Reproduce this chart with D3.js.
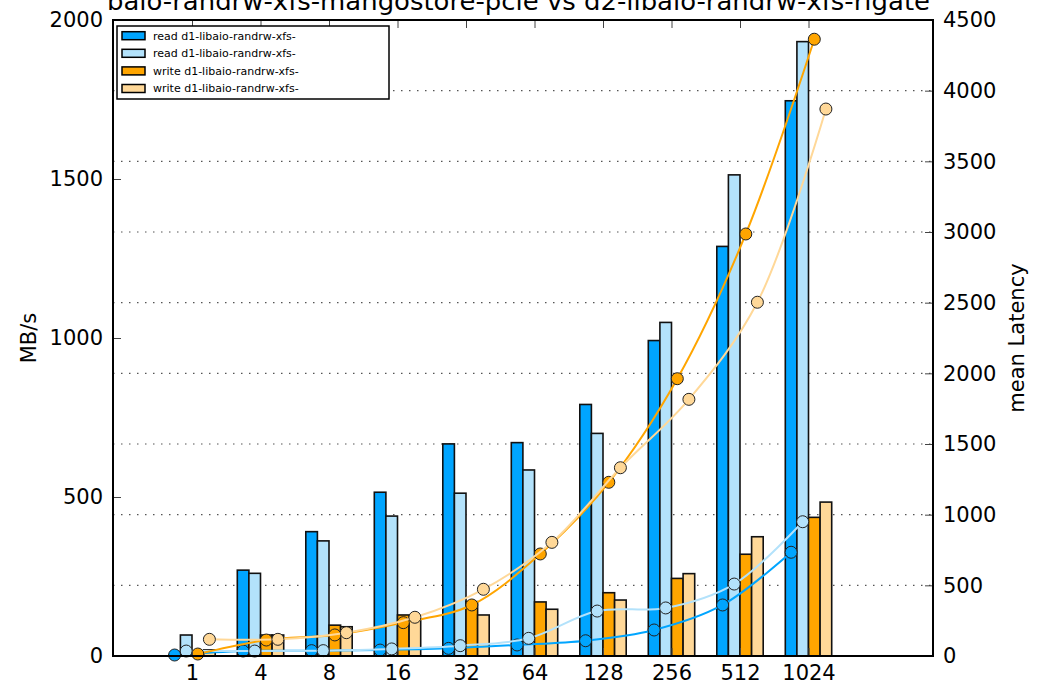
<!DOCTYPE html>
<html>
<head>
<meta charset="utf-8">
<script src="https://cdn.jsdelivr.net/npm/d3@7"></script>
<style>
  body { margin: 0; background: #fff; }
  svg { font-family: "DejaVu Sans", sans-serif; }
</style>
</head>
<body>
<div id="chart"></div>
<script>
var categories = ["1", "4", "8", "16", "32", "64", "128", "256", "512", "1024"];
var seriesNames = ["read d1-libaio-randrw-xfs-", "read d1-libaio-randrw-xfs-",
                   "write d1-libaio-randrw-xfs-", "write d1-libaio-randrw-xfs-"];
var seriesColors = ["#00a5ff", "#b3e2fb", "#ffa500", "#ffd898"];

// MB/s (left axis)
var readBw1  = [2, 270, 391, 515, 667, 671, 791, 992, 1288, 1746];
var readBw2  = [66, 260, 362, 440, 512, 585, 700, 1049, 1513, 1932];
var writeBw1 = [5, 66, 97, 129, 171, 170, 199, 244, 320, 436];
var writeBw2 = [19, 66, 92, 113, 129, 147, 176, 259, 375, 484];

// mean latency (right axis)
var readLat1  = [7, 35, 38, 42, 54, 78, 108, 184, 361, 734];
var readLat2  = [35, 35, 38, 50, 73, 125, 318, 340, 509, 950];
var writeLat1 = [14, 113, 149, 236, 361, 722, 1229, 1962, 2986, 4364];
var writeLat2 = [118, 118, 165, 274, 472, 804, 1332, 1816, 2503, 3870];

var leftTicks = [0, 500, 1000, 1500, 2000];
var rightTicks = [0, 500, 1000, 1500, 2000, 2500, 3000, 3500, 4000, 4500];

var bw = [readBw1, readBw2, writeBw1, writeBw2];
var lat = [readLat1, readLat2, writeLat1, writeLat2];

var W = 1047, H = 684;
var plot = { left: 113, right: 933, top: 20, bottom: 656 };

var svg = d3.select("#chart").append("svg")
  .attr("width", W).attr("height", H);

var xScale = d3.scalePoint().domain(categories).range([192, 808.5]);
var subScale = d3.scaleBand().domain([0, 1, 2, 3]).range([-23.2, 23.2]);
var yLeft = d3.scaleLinear().domain([0, 2000]).range([plot.bottom, plot.top]);
var yRight = d3.scaleLinear().domain([0, 4500]).range([plot.bottom, plot.top]);

// title (clipped at the top of the page, as in the original)
svg.append("text")
  .attr("x", 107).attr("y", 10)
  .attr("font-size", 24)
  .attr("textLength", 823)
  .attr("lengthAdjust", "spacingAndGlyphs")
  .text("baio-randrw-xfs-mangostore-pcie vs d2-libaio-randrw-xfs-rigate");

// dotted grid from the right axis
svg.append("g").selectAll("line")
  .data(rightTicks.filter(function(d) { return d > 0 && d < 4500; }))
  .enter().append("line")
  .attr("x1", plot.left).attr("x2", plot.right)
  .attr("y1", function(d) { return yRight(d); })
  .attr("y2", function(d) { return yRight(d); })
  .attr("stroke", "#555")
  .attr("stroke-width", 1.2)
  .attr("stroke-dasharray", "1.5,6.5");

// bars
var groups = svg.append("g").selectAll("g")
  .data(categories)
  .enter().append("g")
  .attr("transform", function(d) { return "translate(" + xScale(d) + ",0)"; });

groups.selectAll("rect")
  .data(function(d, i) { return bw.map(function(s, k) { return { k: k, v: s[i] }; }); })
  .enter().append("rect")
  .attr("x", function(d) { return subScale(d.k); })
  .attr("width", subScale.bandwidth())
  .attr("y", function(d) { return yLeft(d.v); })
  .attr("height", function(d) { return yLeft(0) - yLeft(d.v); })
  .attr("fill", function(d) { return seriesColors[d.k]; })
  .attr("stroke", "#111")
  .attr("stroke-width", 1.6);

// latency lines
var line = d3.line()
  .x(function(d) { return d.x; })
  .y(function(d) { return yRight(d.v); })
  .curve(d3.curveCatmullRom.alpha(0.5));

lat.forEach(function(s, k) {
  var pts = s.map(function(v, i) {
    return { x: xScale(categories[i]) + subScale(k) + subScale.bandwidth() / 2, v: v };
  });
  svg.append("path")
    .datum(pts)
    .attr("d", line)
    .attr("fill", "none")
    .attr("stroke", seriesColors[k])
    .attr("stroke-width", 2);
  svg.append("g").selectAll("circle")
    .data(pts)
    .enter().append("circle")
    .attr("cx", function(d) { return d.x; })
    .attr("cy", function(d) { return yRight(d.v); })
    .attr("r", 6)
    .attr("fill", seriesColors[k])
    .attr("stroke", "#222")
    .attr("stroke-width", 1);
});

// axes
var fmt = d3.format("d");
var leftAxis = d3.axisLeft(yLeft).tickValues(leftTicks).tickFormat(fmt).tickSize(-8).tickPadding(10);
svg.append("g")
  .attr("transform", "translate(" + plot.left + ",0)")
  .call(leftAxis)
  .call(function(g) { g.select(".domain").remove(); });

var rightAxis = d3.axisRight(yRight).tickValues(rightTicks).tickFormat(fmt).tickSize(-8).tickPadding(10);
svg.append("g")
  .attr("transform", "translate(" + plot.right + ",0)")
  .call(rightAxis)
  .call(function(g) { g.select(".domain").remove(); });

var bottomAxis = d3.axisBottom(xScale).tickSize(-8).tickPadding(9);
svg.append("g")
  .attr("transform", "translate(0," + plot.bottom + ")")
  .call(bottomAxis)
  .call(function(g) { g.select(".domain").remove(); });

var topAxis = d3.axisTop(xScale).tickSize(-8).tickFormat("");
svg.append("g")
  .attr("transform", "translate(0," + plot.top + ")")
  .call(topAxis)
  .call(function(g) { g.select(".domain").remove(); });

svg.selectAll(".tick text")
  .attr("font-size", 21)
  .attr("font-family", "DejaVu Sans")
  .attr("fill", "#000");
svg.selectAll(".tick line").attr("stroke", "#444").attr("stroke-width", 1);

// frame
svg.append("rect")
  .attr("x", plot.left).attr("y", plot.top)
  .attr("width", plot.right - plot.left).attr("height", plot.bottom - plot.top)
  .attr("fill", "none").attr("stroke", "#000").attr("stroke-width", 2);

// axis titles
svg.append("text")
  .attr("transform", "translate(36," + (plot.top + plot.bottom) / 2 + ")rotate(-90)")
  .attr("text-anchor", "middle")
  .attr("font-size", 21)
  .text("MB/s");

svg.append("text")
  .attr("transform", "translate(1024," + (plot.top + plot.bottom) / 2 + ")rotate(-90)")
  .attr("text-anchor", "middle")
  .attr("font-size", 21)
  .text("mean Latency");

// legend
var legend = svg.append("g").attr("transform", "translate(117,26)");
legend.append("rect")
  .attr("width", 272).attr("height", 73)
  .attr("fill", "#fff").attr("stroke", "#000").attr("stroke-width", 1.5);

var item = legend.selectAll("g.item")
  .data(seriesNames)
  .enter().append("g")
  .attr("class", "item")
  .attr("transform", function(d, i) { return "translate(0," + (9.7 + i * 17.6) + ")"; });

item.append("rect")
  .attr("x", 5).attr("y", -4).attr("width", 23).attr("height", 8)
  .attr("fill", function(d, i) { return seriesColors[i]; })
  .attr("stroke", "#000").attr("stroke-width", 1.5);

item.append("text")
  .attr("x", 36).attr("y", 0)
  .attr("dy", "0.35em")
  .attr("font-size", 11)
  .text(function(d) { return d; });
</script>
</body>
</html>
